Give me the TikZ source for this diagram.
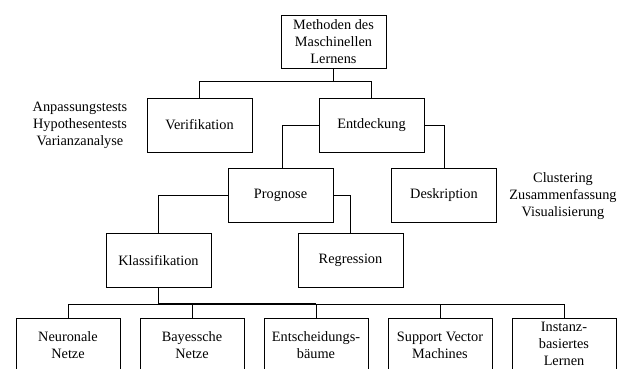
\documentclass[tikz,border=0pt]{standalone}
\usepackage{fontspec}
\setmainfont{Liberation Serif}
\usetikzlibrary{calc}
\begin{document}
\begin{tikzpicture}[x=1pt,y=-1pt,
  txt/.style={font=\fontsize{14.3}{17}\selectfont},
  box/.style={txt, draw, line width=1pt, minimum width=105pt, minimum height=54pt,
              align=center, inner sep=1pt},
  leaf/.style={box, minimum width=104pt},
  note/.style={txt, align=center, inner sep=0pt},
  link/.style={line width=1pt}]
\clip (0,0) rectangle (622,368);

% hierarchy boxes
\node[box, minimum height=53pt] (root) at (333.5,41.5) {Methoden des\\Maschinellen\\Lernens};
\node[box] (ver) at (199.5,125) {Verifikation};
\node[box] (ent) at (371.5,125) {Entdeckung};
\node[box] (pro) at (280.5,195.5) {Prognose};
\node[box] (des) at (444,195.5) {Deskription};
\node[box] (kla) at (158.5,260.5) {Klassifikation};
\node[box] (reg) at (350.5,260.5) {Regression};

% leaf boxes (run off the lower edge)
\node[leaf] (nn)  at (68,345)  {Neuronale\\Netze};
\node[leaf] (bn)  at (192,345) {Bayessche\\Netze};
\node[leaf] (eb)  at (316,345) {Entscheidungs-\\bäume};
\node[leaf] (svm) at (440,345) {Support Vector\\Machines};
\node[leaf, minimum height=51pt] (ibl) at (564,343.5) {Instanz-\\basiertes\\Lernen};

% side notes
\node[note] (vnote) at (80,125) {Anpassungstests\\Hypothesentests\\Varianzanalyse};
\node[note] (dnote) at (563,196) {Clustering\\Zusammenfassung\\Visualisierung};

% connectors
\coordinate (rbus) at ($(root.south)+(0,13)$);
\draw[link] (root.south) -- (rbus);
\draw[link] (ver.north) |- (rbus) -| (ent.north);

\draw[link] (ent.west) -| ([xshift=1.5pt]pro.north);
\draw[link] (ent.east) -| (des.north);

\draw[link] (pro.west) -| (kla.north);
\draw[link] (pro.east) -| (reg.north);

\coordinate (kbus) at ($(kla.south)+(0,16)$);
\draw[link] (kla.south) -- (kbus);
\draw[link] (nn.north) |- (kbus -| ibl.north) -- (ibl.north);
\draw[link, line width=1.8pt] (kbus) -- (kbus -| eb.north);
\foreach \n in {bn, eb, svm}
  \draw[link] (kbus -| \n.north) -- (\n.north);
\end{tikzpicture}
\end{document}
